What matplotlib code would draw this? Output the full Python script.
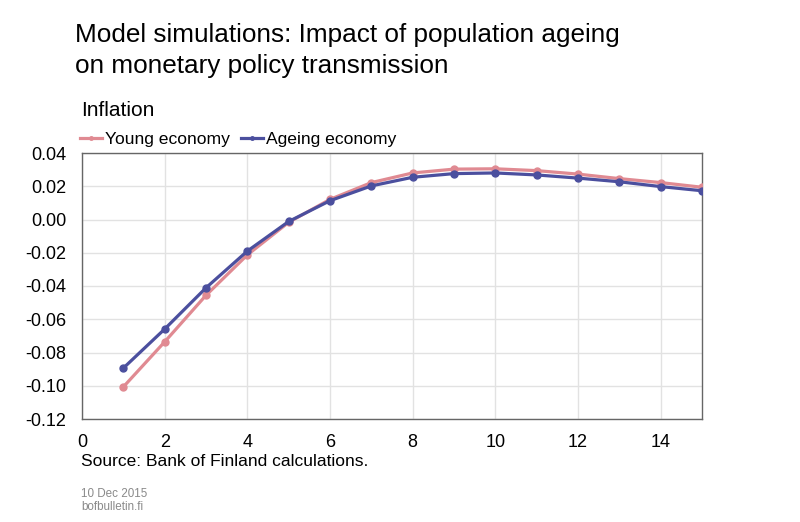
import matplotlib
matplotlib.use("Agg")
import matplotlib.pyplot as plt

plt.rcParams['font.family'] = ['Liberation Sans', 'DejaVu Sans']

periods = list(range(1, 16))
young = [-0.1007, -0.0736, -0.0456, -0.0213, -0.0017, 0.0121, 0.0222, 0.0280, 0.0303, 0.0305,
         0.0294, 0.0273, 0.0246, 0.0222, 0.0194]
ageing = [-0.0894, -0.0659, -0.0411, -0.0190, -0.0012, 0.0113, 0.0202, 0.0254, 0.0276, 0.0280,
          0.0268, 0.0249, 0.0227, 0.0198, 0.0173]
xticks = [0, 2, 4, 6, 8, 10, 12, 14]
yticks = [0.04, 0.02, 0.00, -0.02, -0.04, -0.06, -0.08, -0.10, -0.12]

c_young = '#e08a92'
c_age = '#4b4f9e'

fig = plt.figure(figsize=(8.0, 5.22), dpi=100)
ax = fig.add_axes([82/800, 1-419/522, (702-82)/800, (419-153)/522])

ax.plot(periods, young, color=c_young, lw=2.3, marker='o', ms=5, label='Young economy', zorder=3)
ax.plot(periods, ageing, color=c_age, lw=2.3, marker='o', ms=5, label='Ageing economy', zorder=4)

ax.set_xlim(0, 15)
ax.set_ylim(-0.12, 0.04)
ax.set_xticks(xticks)
ax.set_yticks(yticks)
ax.set_yticklabels([f"{v:.2f}" for v in yticks])
ax.tick_params(axis='both', length=0, labelsize=13, colors='black')
ax.tick_params(axis='y', pad=11.5)
ax.tick_params(axis='x', pad=10.5)
ax.grid(True, color='#e2e2e2', lw=1)
ax.set_axisbelow(True)
for s in ax.spines.values():
    s.set_color('#666666')
    s.set_linewidth(1)

fig.text(75/800, 1-42.3/522, "Model simulations: Impact of population ageing",
         fontsize=18.8, ha='left', va='baseline')
fig.text(75/800, 1-73.3/522, "on monetary policy transmission",
         fontsize=18.8, ha='left', va='baseline')
fig.text(81/800, 1-115.7/522, "Inflation", fontsize=15, ha='left', va='baseline')

leg = fig.legend(loc='lower left', bbox_to_anchor=(80/800, 1-147/522), ncol=2, frameon=False,
                 fontsize=12.6, handlelength=1.24, handletextpad=0.19, columnspacing=0.63,
                 borderaxespad=0, borderpad=0, markerscale=0.5)

fig.text(81/800, 1-466/522, "Source: Bank of Finland calculations.", fontsize=12.5, ha='left', va='baseline')
fig.text(81/800, 1-497.3/522, "10 Dec 2015", fontsize=8.4, ha='left', va='baseline', color='#8a8a8a')
fig.text(81/800, 1-509.5/522, "bofbulletin.fi", fontsize=8.4, ha='left', va='baseline', color='#8a8a8a')

fig.savefig('out.png', dpi=100)
